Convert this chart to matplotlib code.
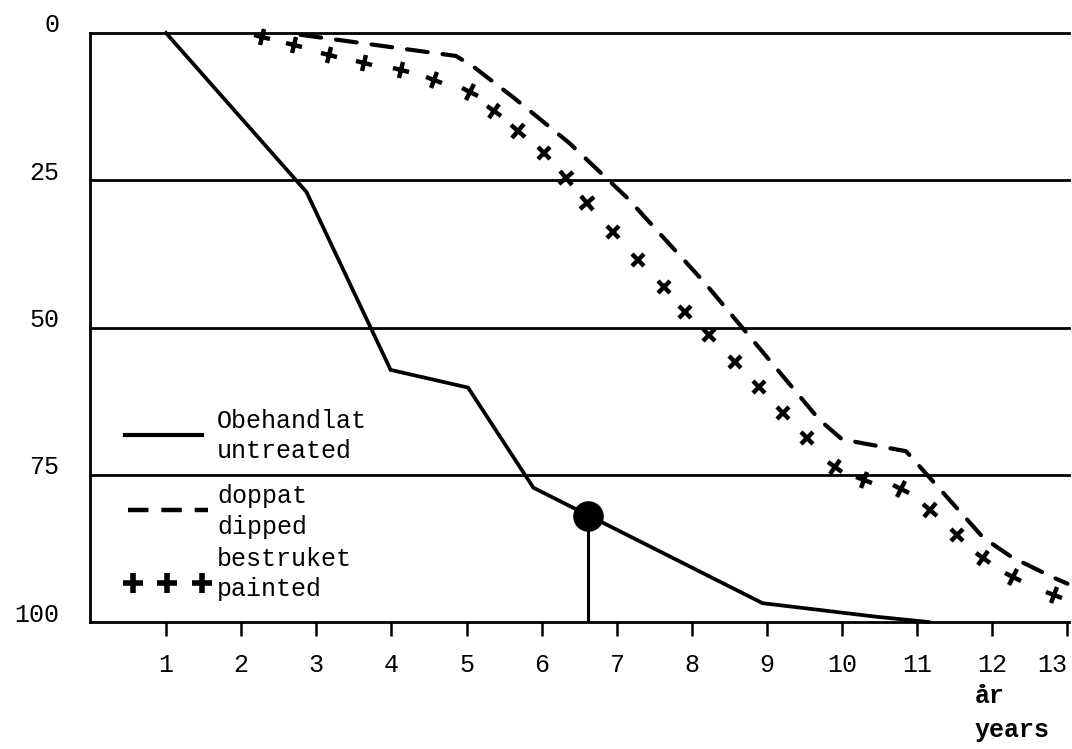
import numpy as np
import matplotlib
matplotlib.use("Agg")
import matplotlib.pyplot as plt
from matplotlib.markers import MarkerStyle
from matplotlib.transforms import Affine2D, ScaledTranslation

# Typewriter look
plt.rcParams['font.family'] = ['Liberation Mono', 'DejaVu Sans Mono']

# Data (percent, 0 at top, 100 at bottom)
untreated_x = [1.0, 2.87, 3.99, 5.02, 5.89, 8.94, 10.45, 11.15]
untreated_y = [0.0, 27.0, 57.2, 60.2, 77.2, 96.8, 99.1, 100.0]

dipped_x = [2.79, 4.86, 5.10, 5.63, 6.37, 7.14, 8.17, 9.70, 10.00, 10.85, 11.88, 12.26, 12.82, 13.00]
dipped_y = [0.3, 3.9, 5.8, 11.0, 18.7, 28.0, 42.4, 65.7, 69.0, 71.0, 85.7, 89.0, 92.5, 93.5]

painted_x = [2.28, 2.70, 3.17, 3.63, 4.13, 4.57, 5.04, 5.37, 5.69, 6.03, 6.32, 6.60, 6.95,
             7.28, 7.63, 7.91, 8.23, 8.57, 8.89, 9.21, 9.53, 9.90, 10.29, 10.79, 11.17,
             11.53, 11.88, 12.28, 12.82]
painted_y = [0.7, 2.0, 3.7, 5.1, 6.3, 8.0, 10.0, 13.2, 16.6, 20.4, 24.6, 28.9, 33.8,
             38.5, 43.1, 47.4, 51.3, 55.9, 60.1, 64.5, 68.8, 73.7, 75.9, 77.4, 81.0,
             85.2, 89.1, 92.4, 95.4]

marked_x = 6.62   # big dot on the untreated curve
marked_y = 82.0

x_ticks = list(range(1, 14))
y_ticks = [0, 25, 50, 75, 100]

legend_lines = [("Obehandlat", "untreated"), ("doppat", "dipped"), ("bestruket", "painted")]

W, H = 1072, 749
fig = plt.figure(figsize=(W / 100, H / 100), dpi=100)
left, right, top, bottom = 90, 1069, 33, 622
ax = fig.add_axes([left / W, 1 - bottom / H, (right - left) / W, (bottom - top) / H])

ax.set_xlim(-0.012, 13.02)
ax.set_ylim(100, 0)

for s in ['top', 'right']:
    ax.spines[s].set_visible(False)
ax.spines['left'].set_linewidth(2.0)
ax.spines['bottom'].set_linewidth(2.0)

# horizontal rules
for yv in y_ticks[:-1]:
    ax.axhline(yv, color='black', lw=2.0, clip_on=False, zorder=1)

# untreated
ax.plot(untreated_x, untreated_y, color='black', lw=2.7, solid_joinstyle='miter', clip_on=False, zorder=3)
# dipped
ax.plot(dipped_x, dipped_y, color='black', lw=3.0, linestyle=(0, (5.0, 3.6)),
        dash_capstyle='round', clip_on=False, zorder=3)

# painted: hand-drawn crosses tilted along the curve direction
px_per_x = (right - left) / (13.02 + 0.012)
px_per_y = (bottom - top) / 100.0
gx = np.gradient(np.array(painted_x)) * px_per_x
gy = np.gradient(np.array(painted_y)) * px_per_y
angles = np.degrees(np.arctan2(-gy, gx))
for xv, yv, ang in zip(painted_x, painted_y, angles):
    m = MarkerStyle('+', transform=Affine2D().rotate_deg(ang))
    ax.plot([xv], [yv], linestyle='none', marker=m, ms=12.5, mew=3.2,
            color='black', clip_on=False, zorder=4)

# big dot with drop line
ax.plot([marked_x, marked_x], [marked_y, 100], color='black', lw=2.2, zorder=3)
ax.plot([marked_x], [marked_y], 'o', color='black', ms=21, zorder=5)

# axes ticks
ax.set_xticks(x_ticks)
ax.set_xticklabels([str(v) for v in x_ticks], fontsize=18)
ax.tick_params(axis='x', direction='out', length=10, width=1.8, pad=12)
xlabels = ax.get_xticklabels()
xlabels[-1].set_ha('right')

ax.set_yticks(y_ticks)
ax.set_yticklabels([str(v) for v in y_ticks], fontsize=18)
ax.tick_params(axis='y', length=0, pad=22)
shift_up = ScaledTranslation(0, 10 / 100, fig.dpi_scale_trans)
for lab in ax.get_yticklabels():
    lab.set_transform(lab.get_transform() + shift_up)

# hand-made legend
def fx(px):
    return (px - left) / (right - left)

def fy(py):
    return (bottom - py) / (bottom - top)

ax.plot([fx(125), fx(202)], [fy(435), fy(435)], transform=ax.transAxes,
        color='black', lw=3.0, zorder=3)
ax.plot([fx(128), fx(208)], [fy(510), fy(510)], transform=ax.transAxes,
        color='black', lw=3.2, linestyle=(0, (4.6, 2.9)), zorder=3)
ax.plot([fx(133), fx(167), fx(202)], [fy(583)] * 3, transform=ax.transAxes,
        linestyle='none', marker='+', ms=14, mew=4.0, color='black', zorder=3)

baselines = [428, 458, 503, 534, 566, 596]
names = [t for pair in legend_lines for t in pair]
for name, b in zip(names, baselines):
    ax.text(fx(217), fy(b), name, transform=ax.transAxes, fontsize=18,
            ha='left', va='baseline')

fig.text(975 / W, 1 - 703 / H, "år", fontsize=18, fontweight='bold', ha='left', va='baseline')
fig.text(975 / W, 1 - 737 / H, "years", fontsize=18, fontweight='bold', ha='left', va='baseline')

fig.savefig("out.png", dpi=100)
